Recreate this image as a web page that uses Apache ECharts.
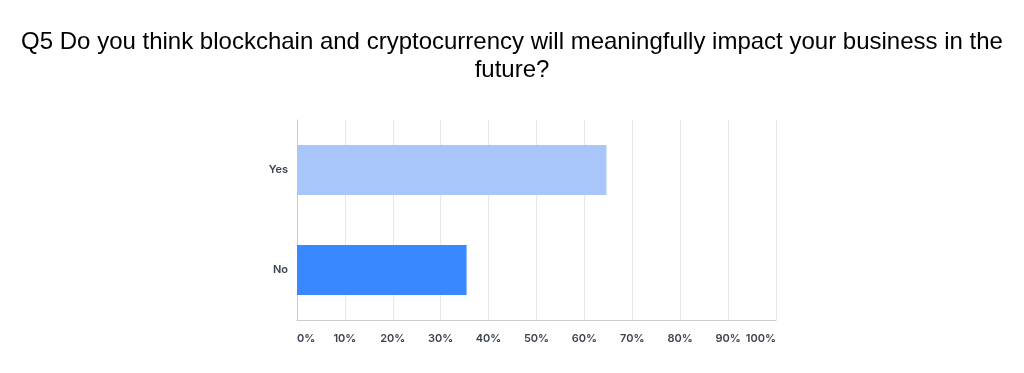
<!DOCTYPE html>
<html>
<head>
<meta charset="utf-8">
<script src="https://cdn.jsdelivr.net/npm/echarts@6/dist/echarts.min.js"></script>
<style>html,body{margin:0;padding:0;background:#fff;}#chart{width:1024px;height:373px;}</style>
</head>
<body>
<div id="chart"></div>
<script>
const titleText = "Q5 Do you think blockchain and cryptocurrency will meaningfully impact your business in the\nfuture?";
const categories = ["Yes", "No"];
const values = [64.6, 35.4];
const barColors = ["#a8c6fa", "#3a88fe"];
const xTicks = [0, 10, 20, 30, 40, 50, 60, 70, 80, 90, 100];

const chart = echarts.init(document.getElementById('chart'), null, {renderer: 'canvas'});
chart.setOption({
  animation: false,
  backgroundColor: '#fff',
  title: {
    text: titleText,
    left: 'center',
    top: 23,
    textStyle: {fontFamily: 'Liberation Sans, Arial, sans-serif', fontSize: 24, fontWeight: 'normal', color: '#000', lineHeight: 28}
  },
  grid: {left: 297, right: 248, top: 120, bottom: 53},
  xAxis: {
    type: 'value', min: xTicks[0], max: xTicks[xTicks.length - 1], interval: 10,
    axisLine: {show: true, lineStyle: {color: '#cccccc', width: 1}},
    axisTick: {show: false},
    splitLine: {show: true, lineStyle: {color: '#e8e8e8', width: 1}},
    axisLabel: {
      formatter: '{value}%', margin: 13, fontSize: 11, fontWeight: 600,
      fontFamily: 'Inter, Roboto, sans-serif', color: '#3d4250',
      alignMinLabel: 'left', alignMaxLabel: 'right'
    }
  },
  yAxis: {
    type: 'category', data: categories, inverse: true,
    axisLine: {show: true, lineStyle: {color: '#cccccc', width: 1}},
    axisTick: {show: false},
    axisLabel: {margin: 9, fontSize: 11, fontWeight: 600, fontFamily: 'Inter, Roboto, sans-serif', color: '#3d4250'}
  },
  series: [{
    type: 'bar',
    barWidth: 50,
    data: values.map((v, i) => ({value: v, itemStyle: {color: barColors[i]}}))
  }]
});
</script>
</body>
</html>
